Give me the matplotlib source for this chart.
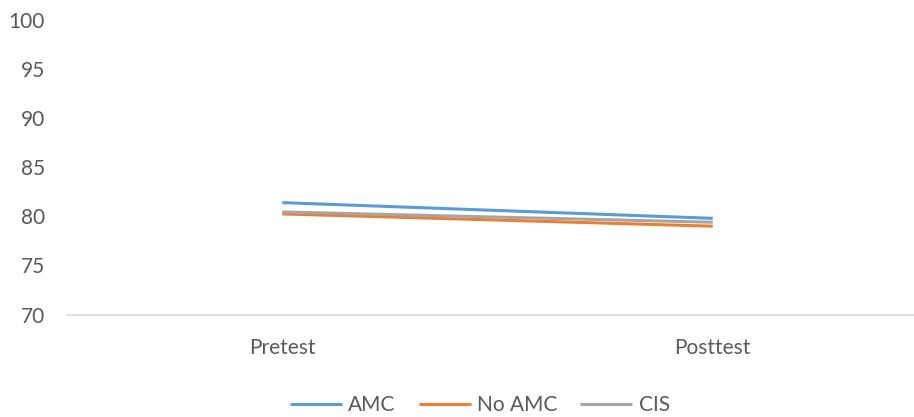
import matplotlib.pyplot as plt

plt.rcParams["font.family"] = ["Lato", "DejaVu Sans"]

categories = ["Pretest", "Posttest"]
amc = [81.4, 79.8]
no_amc = [80.25, 79.0]
cis = [80.45, 79.4]

series = [
    ("AMC", amc, "#5B9BD5"),
    ("No AMC", no_amc, "#ED7D31"),
    ("CIS", cis, "#A5A5A5"),
]

fig = plt.figure(figsize=(9.14, 4.17), dpi=100)
ax = fig.add_axes([67 / 914, 0.2458, (928 - 67) / 914, 0.706])

x = range(len(categories))
for name, vals, color in series:
    ax.plot(x, vals, color=color, linewidth=2.2, label=name, solid_capstyle="butt")

ax.set_xlim(-0.5, 1.5)
ax.set_ylim(70, 100)
ax.set_yticks(range(70, 101, 5))
ax.set_xticks(list(x))
ax.set_xticklabels(categories)

for side in ["top", "right", "left"]:
    ax.spines[side].set_visible(False)
ax.spines["bottom"].set_color("#D9D9D9")
ax.spines["bottom"].set_linewidth(1.2)
ax.tick_params(length=0, labelsize=15, colors="#595959")
ax.tick_params(axis="x", pad=17)
ax.tick_params(axis="y", pad=16)

fig.legend(loc="lower center", bbox_to_anchor=(0.525, -0.04), ncol=3, frameon=False,
           fontsize=15, labelcolor="#595959", handlelength=2.5, columnspacing=1.1,
           handletextpad=0.3)

fig.savefig("out.png", dpi=100)
